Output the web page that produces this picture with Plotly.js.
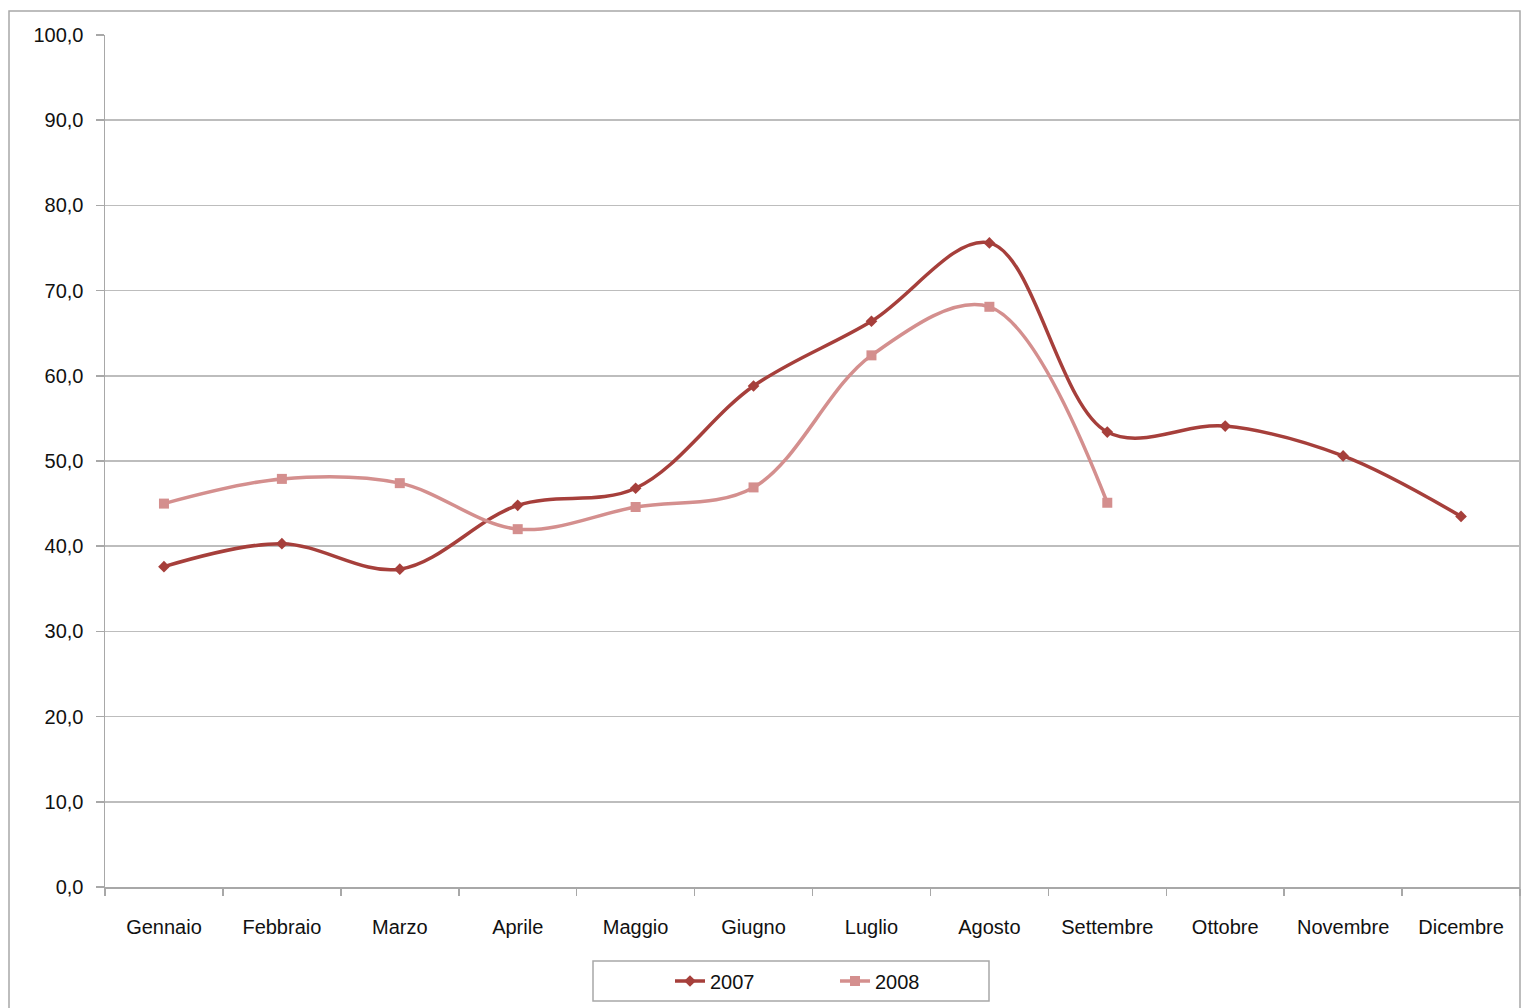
<!DOCTYPE html>
<html>
<head>
<meta charset="utf-8">
<script src="https://cdn.plot.ly/plotly-3.0.1.min.js"></script>
<style>
html,body{margin:0;padding:0;background:#fff;}
#chart{width:1522px;height:1008px;}
</style>
</head>
<body>
<div id="chart"></div>
<script>
const months = ["Gennaio","Febbraio","Marzo","Aprile","Maggio","Giugno","Luglio","Agosto","Settembre","Ottobre","Novembre","Dicembre"];
const values2007 = [37.6, 40.3, 37.3, 44.8, 46.8, 58.8, 66.4, 75.6, 53.4, 54.1, 50.6, 43.5];
const values2008 = [45.0, 47.9, 47.4, 42.0, 44.6, 46.9, 62.4, 68.1, 45.1];
const months2008 = months.slice(0, values2008.length);
const yTicks = [0,10,20,30,40,50,60,70,80,90,100];

const W = 1522, H = 1008;
const mL = 105, mR = 2, mT = 35, mB = 121;
const pw = W - mL - mR, ph = H - mT - mB;
const px = x => (x - mL) / pw;
const py = y => (H - mB - y) / ph;

const c2007 = "#A63F3B";
const c2008 = "#D48F8E";

const traces = [
  {x: months, y: values2007, name: "2007", type: "scatter", mode: "lines+markers",
   line: {color: c2007, width: 3.5, shape: "spline", smoothing: 1},
   marker: {symbol: "diamond", size: 9, color: c2007}},
  {x: months2008, y: values2008, name: "2008", type: "scatter", mode: "lines+markers",
   line: {color: c2008, width: 3.5, shape: "spline", smoothing: 1},
   marker: {symbol: "square", size: 10, color: c2008}}
];

const layout = {
  width: W, height: H,
  margin: {l: mL, r: mR, t: mT, b: mB},
  paper_bgcolor: "#fff", plot_bgcolor: "#fff",
  font: {family: "Liberation Sans, Arial, sans-serif", size: 20, color: "#111"},
  separators: ",.",
  showlegend: true,
  xaxis: {
    type: "category", categoryorder: "array", categoryarray: months,
    range: [-0.5, 11.5], fixedrange: true,
    tickson: "boundaries", ticks: "outside", ticklen: 7, tickcolor: "#A8A8A8", tickwidth: 1.5,
    showgrid: false, zeroline: false,
    showline: true, linecolor: "#A8A8A8", linewidth: 1.5,
    ticklabelstandoff: 21,
    tickfont: {size: 20, color: "#111"}
  },
  yaxis: {
    range: [0, 100], tickvals: yTicks, tickformat: ".1f",
    ticks: "outside", ticklen: 8, tickcolor: "#A8A8A8", tickwidth: 1.5,
    showgrid: true, gridcolor: "#BDBDBD", gridwidth: 1.5,
    zeroline: false, showline: true, linecolor: "#A8A8A8", linewidth: 1.5,
    ticklabelstandoff: 8,
    tickfont: {size: 20, color: "#111"}
  },
  legend: {
    orientation: "h", x: px(670), xanchor: "left", y: py(981), yanchor: "middle",
    bgcolor: "rgba(0,0,0,0)", borderwidth: 0,
    font: {size: 20, color: "#111"}, entrywidth: 120, itemwidth: 30,
    traceorder: "normal"
  },
  shapes: [
    {type: "rect", xref: "paper", yref: "paper", x0: px(9), x1: px(1520), y0: py(1010), y1: py(11),
     line: {color: "#A8A8A8", width: 1.5}, fillcolor: "rgba(0,0,0,0)", layer: "below"},
    {type: "rect", xref: "paper", yref: "paper", x0: px(593), x1: px(989), y0: py(1001), y1: py(961),
     line: {color: "#A8A8A8", width: 1.5}, fillcolor: "rgba(0,0,0,0)", layer: "below"}
  ]
};

Plotly.newPlot("chart", traces, layout, {displayModeBar: false, staticPlot: true});
</script>
</body>
</html>
